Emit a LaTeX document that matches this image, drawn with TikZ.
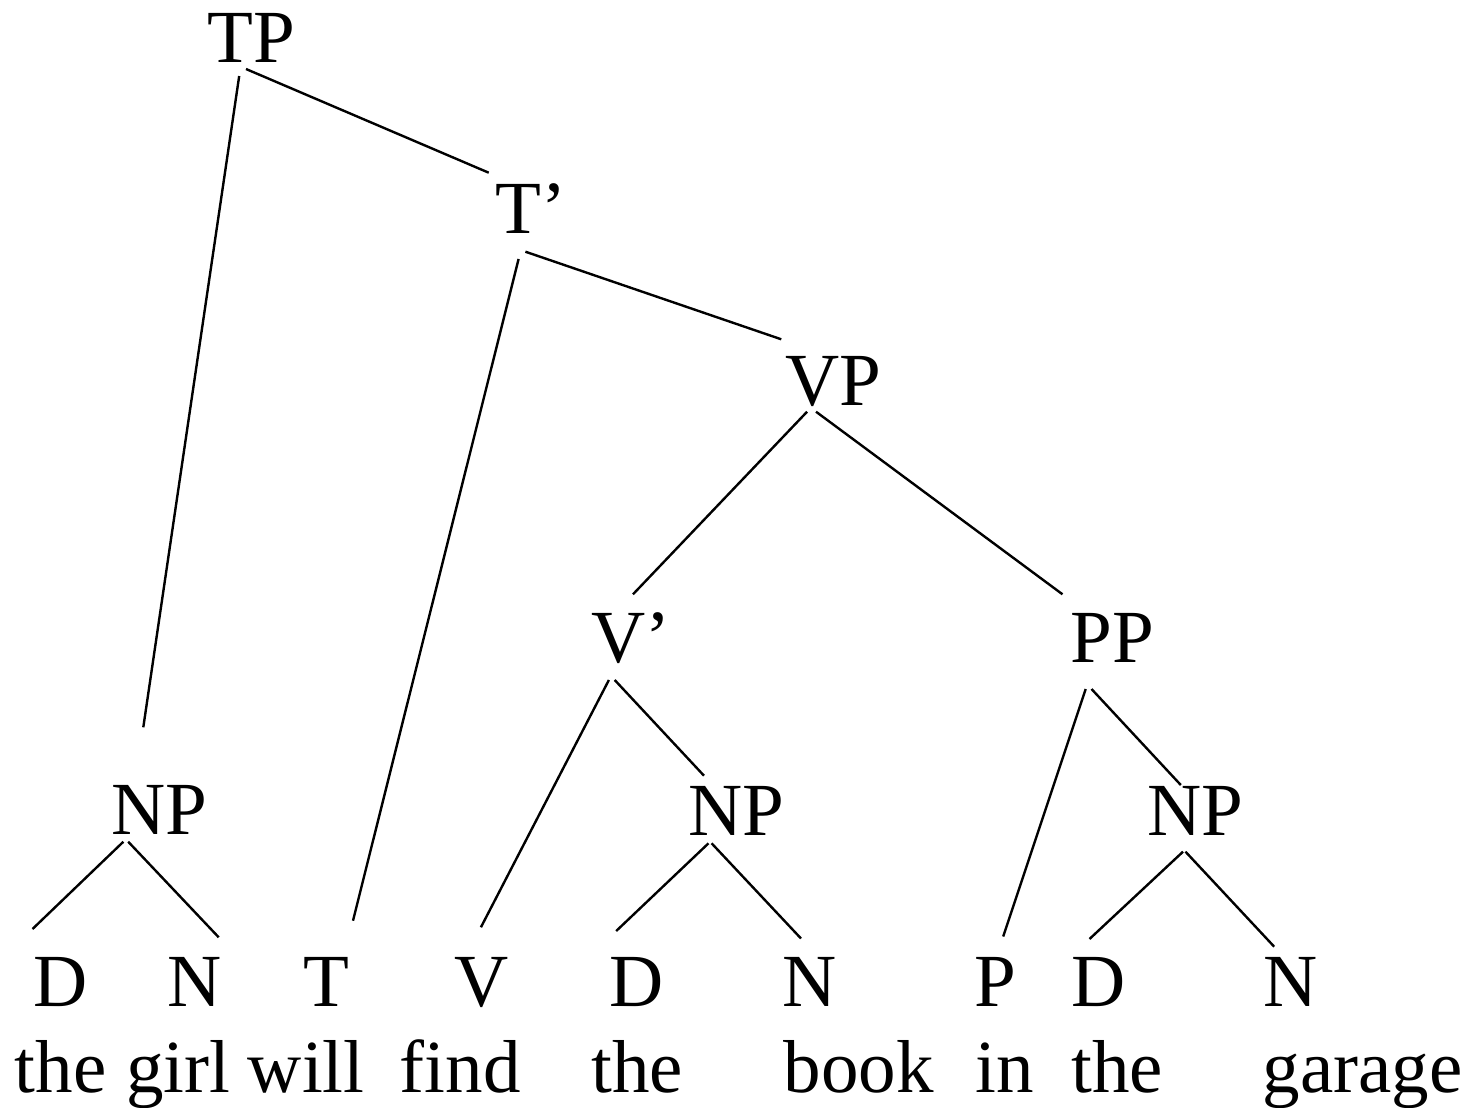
\documentclass[tikz,border=0pt]{standalone}
\usepackage{fontspec}
\setmainfont{Liberation Serif}
\begin{document}
\begin{tikzpicture}[
    x=0.5pt, y=-0.5pt,
    lbl/.style={anchor=base west, inner sep=0pt, font=\fontsize{37.5}{45}\selectfont},
    branch/.style={line width=1.2pt}
  ]
    \useasboundingbox (0,0) rectangle (1469,1108);
    % phrasal labels
    \node[lbl] (tp)  at (207.5,  62)   {TP};
    \node[lbl] (tb)  at (495,   233.3) {T’};
    \node[lbl] (vp)  at (785,   405)   {VP};
    \node[lbl] (vb)  at (591,   662.7) {V’};
    \node[lbl] (pp)  at (1070.5,662.7) {PP};
    \node[lbl] (npa) at (111,   834.5) {NP};
    \node[lbl] (npb) at (688,   835)   {NP};
    \node[lbl] (npc) at (1147,  835)   {NP};
    % word categories
    \node[lbl] (d1) at (33,    1006) {D};
    \node[lbl] (n1) at (167.5, 1006) {N};
    \node[lbl] (t)  at (303.5, 1006) {T};
    \node[lbl] (v)  at (454,   1006) {V};
    \node[lbl] (d2) at (609,   1006) {D};
    \node[lbl] (n2) at (782,   1006) {N};
    \node[lbl] (p)  at (974.5, 1006) {P};
    \node[lbl] (d3) at (1071,  1006) {D};
    \node[lbl] (n3) at (1263.5,1006) {N};
    % words
    \node[lbl] (w1) at (14.3,  1092) {the};
    \node[lbl] (w2) at (126,   1092) {girl};
    \node[lbl] (w3) at (247.5, 1092) {will};
    \node[lbl] (w4) at (399.5, 1092) {find};
    \node[lbl] (w5) at (591,   1092) {the};
    \node[lbl] (w6) at (783.5, 1092) {book};
    \node[lbl] (w7) at (975.5, 1092) {in};
    \node[lbl] (w8) at (1071,  1092) {the};
    \node[lbl] (w9) at (1262.5,1092) {garage};
    % branch ends below the mothers
    \coordinate (tp-l)  at (239.2, 76);    \coordinate (tp-r)  at (246,   69);
    \coordinate (tb-l)  at (518.6, 259);   \coordinate (tb-r)  at (525.4, 251.7);
    \coordinate (vp-l)  at (807.1, 411.7); \coordinate (vp-r)  at (816,   411.7);
    \coordinate (vb-l)  at (608.9, 680);   \coordinate (vb-r)  at (614.7, 680);
    \coordinate (pp-l)  at (1085.7,689);   \coordinate (pp-r)  at (1091.5,689);
    \coordinate (npa-l) at (123.4, 841.7); \coordinate (npa-r) at (128.2, 841.7);
    \coordinate (npb-l) at (708.5, 843.3); \coordinate (npb-r) at (711.6, 843.3);
    \coordinate (npc-l) at (1183,  851.7); \coordinate (npc-r) at (1185.5,851.7);
    % branch ends above the daughters
    \coordinate (tb-t)  at (488.7, 172.7);
    \coordinate (vp-t)  at (781.3, 339.3);
    \coordinate (vb-t)  at (633,   594.3);
    \coordinate (pp-t)  at (1062.5,594.3);
    \coordinate (npa-t) at (143.3, 727.3);
    \coordinate (npb-t) at (704,   775.7);
    \coordinate (npc-t) at (1180.8,785);
    \coordinate (t-t)   at (353,   920.7);
    \coordinate (v-t)   at (480.9, 927.3);
    \coordinate (p-t)   at (1003.2,936.5);
    \coordinate (d1-t)  at (32.5,  929);
    \coordinate (n1-t)  at (218.7, 937.3);
    \coordinate (d2-t)  at (616.2, 931);
    \coordinate (n2-t)  at (801,   938.5);
    \coordinate (d3-t)  at (1089.5,939);
    \coordinate (n3-t)  at (1274.2,946.7);
    \foreach \a/\b in {tp-l/npa-t, tp-r/tb-t, tb-l/t-t, tb-r/vp-t,
                       vp-l/vb-t, vp-r/pp-t, vb-l/v-t, vb-r/npb-t,
                       pp-l/p-t, pp-r/npc-t, npa-l/d1-t, npa-r/n1-t,
                       npb-l/d2-t, npb-r/n2-t, npc-l/d3-t, npc-r/n3-t} {
      \draw[branch] (\a)--(\b);
    }
\end{tikzpicture}
\end{document}
